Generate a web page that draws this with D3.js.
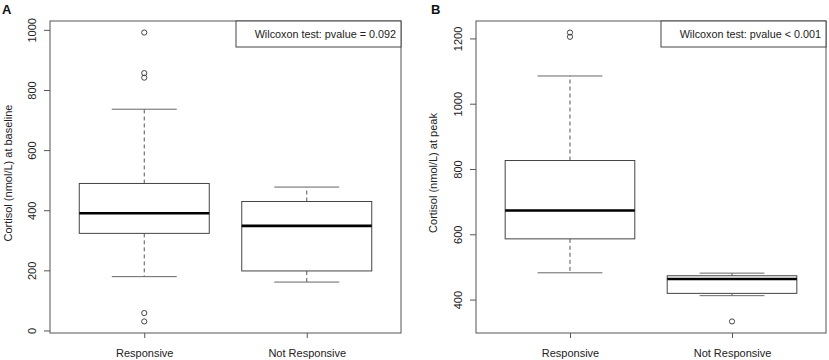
<!DOCTYPE html>
<html>
<head>
<meta charset="utf-8">
<script src="https://cdn.jsdelivr.net/npm/d3@7"></script>
<style>
  body { margin: 0; background: #fff; }
  svg { font-family: "Liberation Sans", Arial, sans-serif; }
</style>
</head>
<body>
<svg id="chart" width="829" height="360"></svg>
<script>
// groups shared by both panels
const groups = ["Responsive", "Not Responsive"];

// panel A: cortisol at baseline
const baseWhiskLo = [179, 161];
const baseQ1 = [323, 198];
const baseMed = [390, 348];
const baseQ3 = [489, 429];
const baseWhiskHi = [736, 477];
const baseOutliers = [[991, 856, 841, 58, 30], []];
const baseTicks = [0, 200, 400, 600, 800, 1000];

// panel B: cortisol at peak
const peakWhiskLo = [482, 412];
const peakQ1 = [586, 419];
const peakMed = [673, 463];
const peakQ3 = [826, 473];
const peakWhiskHi = [1085, 481];
const peakOutliers = [[1218, 1205], [333]];
const peakTicks = [400, 600, 800, 1000, 1200];

const svg = d3.select("#chart");

function buildStats(lo, q1, med, q3, hi, out) {
  return groups.map((g, i) => ({
    group: g, pos: i + 1,
    lo: lo[i], q1: q1[i], med: med[i], q3: q3[i], hi: hi[i], out: out[i]
  }));
}

function drawPanel(cfg) {
  const { left, right, top, bottom } = cfg.box;
  const stats = cfg.stats;

  // R style 4% padding on both axes
  const allVals = stats.flatMap(d => [d.lo, d.hi, ...d.out]);
  const [vmin, vmax] = d3.extent(allVals);
  const vpad = (vmax - vmin) * 0.04;
  const y = d3.scaleLinear()
    .domain([vmin - vpad, vmax + vpad])
    .range([bottom, top]);

  const xlo = 0.5, xhi = stats.length + 0.5;
  const xpad = (xhi - xlo) * 0.04;
  const x = d3.scaleLinear()
    .domain([xlo - xpad, xhi + xpad])
    .range([left, right]);

  const g = svg.append("g");

  // y axis
  const yAxis = g.append("g")
    .attr("transform", "translate(" + left + ",0)")
    .call(d3.axisLeft(y).tickValues(cfg.ticks).tickSize(6).tickFormat(d3.format("d")));
  yAxis.select(".domain").remove();
  yAxis.selectAll("line").attr("stroke", "#555");
  yAxis.selectAll("text")
    .attr("x", null).attr("dy", null)
    .attr("transform", "translate(-14,0) rotate(-90)")
    .attr("text-anchor", "middle")
    .attr("fill", "#222")
    .style("font-size", "11px");

  // x axis
  const xAxis = g.append("g")
    .attr("transform", "translate(0," + bottom + ")")
    .call(d3.axisBottom(x).tickValues(stats.map(d => d.pos)).tickSize(5)
      .tickFormat((d, i) => stats[i].group));
  xAxis.select(".domain").remove();
  xAxis.selectAll("line").attr("stroke", "#555");
  xAxis.selectAll("text")
    .attr("y", 24).attr("dy", null)
    .attr("fill", "#222")
    .style("font-size", "11px");

  // whiskers (dashed)
  const boxes = g.selectAll(".bx").data(stats).enter().append("g").attr("class", "bx");
  boxes.append("line")
    .attr("x1", d => x(d.pos)).attr("x2", d => x(d.pos))
    .attr("y1", d => y(d.q3)).attr("y2", d => y(d.hi))
    .attr("stroke", "#555").attr("stroke-dasharray", "4,3");
  boxes.append("line")
    .attr("x1", d => x(d.pos)).attr("x2", d => x(d.pos))
    .attr("y1", d => y(d.q1)).attr("y2", d => y(d.lo))
    .attr("stroke", "#555").attr("stroke-dasharray", "4,3");

  // staples
  ["lo", "hi"].forEach(k => {
    boxes.append("line")
      .attr("x1", d => x(d.pos - 0.2)).attr("x2", d => x(d.pos + 0.2))
      .attr("y1", d => y(d[k])).attr("y2", d => y(d[k]))
      .attr("stroke", "#666");
  });

  // box
  boxes.append("rect")
    .attr("x", d => x(d.pos - 0.4))
    .attr("width", d => x(d.pos + 0.4) - x(d.pos - 0.4))
    .attr("y", d => y(d.q3))
    .attr("height", d => y(d.q1) - y(d.q3))
    .attr("fill", "#fff").attr("stroke", "#444");

  // median
  boxes.append("line")
    .attr("x1", d => x(d.pos - 0.4)).attr("x2", d => x(d.pos + 0.4))
    .attr("y1", d => y(d.med)).attr("y2", d => y(d.med))
    .attr("stroke", "#000").attr("stroke-width", 2.6);

  // outliers
  boxes.selectAll("circle")
    .data(d => d.out.map(v => ({ pos: d.pos, v: v })))
    .enter().append("circle")
    .attr("cx", d => x(d.pos)).attr("cy", d => y(d.v))
    .attr("r", 2.6)
    .attr("fill", "none").attr("stroke", "#444");

  // frame
  g.append("rect")
    .attr("x", left).attr("y", top)
    .attr("width", right - left).attr("height", bottom - top)
    .attr("fill", "none").attr("stroke", "#555");

  // legend box with test result
  g.append("rect")
    .attr("x", cfg.legendX).attr("y", top)
    .attr("width", right - cfg.legendX).attr("height", 26)
    .attr("fill", "#fff").attr("stroke", "#444");
  g.append("text")
    .attr("x", right - 5).attr("y", top + 17)
    .attr("text-anchor", "end")
    .attr("fill", "#222")
    .style("font-size", "10.8px")
    .text(cfg.legend);

  // y title
  g.append("text")
    .attr("transform", "translate(" + cfg.titleX + "," + ((top + bottom) / 2 - 4) + ") rotate(-90)")
    .attr("text-anchor", "middle")
    .attr("fill", "#222")
    .style("font-size", "11px")
    .text(cfg.ylab);

  // panel letter
  g.append("text")
    .attr("x", cfg.letterX).attr("y", 13.5)
    .attr("font-weight", "bold")
    .style("font-size", "13px")
    .attr("fill", "#111")
    .text(cfg.letter);
}

drawPanel({
  box: { left: 50, right: 401, top: 21, bottom: 333 },
  stats: buildStats(baseWhiskLo, baseQ1, baseMed, baseQ3, baseWhiskHi, baseOutliers),
  ticks: baseTicks,
  legend: "Wilcoxon test: pvalue = 0.092",
  legendX: 236,
  ylab: "Cortisol (nmol/L) at baseline",
  titleX: 12,
  letter: "A",
  letterX: 2
});

drawPanel({
  box: { left: 476, right: 826, top: 21, bottom: 333 },
  stats: buildStats(peakWhiskLo, peakQ1, peakMed, peakQ3, peakWhiskHi, peakOutliers),
  ticks: peakTicks,
  legend: "Wilcoxon test: pvalue < 0.001",
  legendX: 661,
  ylab: "Cortisol (nmol/L) at peak",
  titleX: 437,
  letter: "B",
  letterX: 431
});
</script>
</body>
</html>
